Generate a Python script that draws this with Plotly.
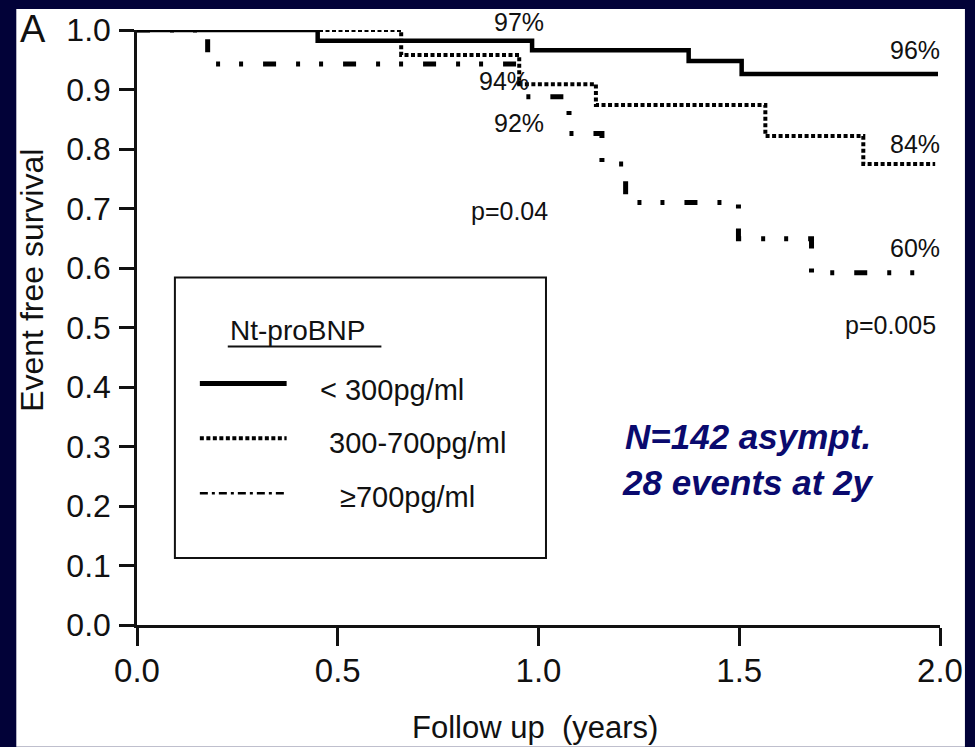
import plotly.graph_objects as go

# ---------------- data ----------------
groups = ["< 300pg/ml", "300-700pg/ml", "≥700pg/ml"]

t_low = [0.45, 0.984, 1.374, 1.506]
s_low = [0.982, 0.966, 0.948, 0.926]
end_low = 1.995

t_mid = [0.658, 0.952, 1.143, 1.565, 1.809]
s_mid = [0.958, 0.909, 0.874, 0.822, 0.775]
end_mid = 1.988

t_high = [0.176, 0.952, 1.076, 1.158, 1.217, 1.498, 1.68]
s_high = [0.943, 0.888, 0.826, 0.775, 0.71, 0.649, 0.592]
end_high = 1.963

pct_labels = ["97%", "96%", "94%", "92%", "84%", "60%"]
p_labels = ["p=0.04", "p=0.005"]
y_ticks = [i / 10 for i in range(11)]
x_ticks = [0.0, 0.5, 1.0, 1.5, 2.0]

# ---------------- layout helpers ----------------
W, H = 975, 747
L, R, T, B = 137, 942, 29, 625  # plot area pixel box


def px(x):
    return (x - L) / (R - L)


def py(y):
    return (B - y) / (B - T)


NAVY = "#020238"
INK = "#111111"
FONT = "Liberation Sans, Arial, sans-serif"


def km(times, surv, end):
    xs = [0.0] + list(times) + [end]
    ys = [1.0] + list(surv) + [surv[-1]]
    return xs, ys


fig = go.Figure()

styles = [
    dict(width=4.5, dash="solid"),
    dict(width=4, dash="4px,2.5px"),
    dict(width=5, dash="13px,20px,4px,19px,4px,20px"),
]
series = [(t_low, s_low, end_low), (t_mid, s_mid, end_mid), (t_high, s_high, end_high)]
order = [2, 1, 0]
for i in order:
    xs, ys = km(*series[i])
    fig.add_trace(go.Scatter(
        x=xs, y=ys, mode="lines", name=groups[i],
        line=dict(color="black", width=styles[i]["width"], dash=styles[i]["dash"], shape="hv"),
        cliponaxis=False, showlegend=False, hoverinfo="skip",
    ))

shapes = []
# white panel on the navy page
shapes.append(dict(type="rect", xref="paper", yref="paper",
                   x0=px(16), x1=px(967), y0=py(747), y1=py(8),
                   fillcolor="white", line=dict(width=0), layer="below"))
# legend box
shapes.append(dict(type="rect", xref="paper", yref="paper",
                   x0=px(175), x1=px(547), y0=py(558), y1=py(277),
                   fillcolor="rgba(0,0,0,0)", line=dict(color=INK, width=2)))
# legend title underline
shapes.append(dict(type="line", xref="paper", yref="paper",
                   x0=px(228), x1=px(382), y0=py(346), y1=py(346),
                   line=dict(color=INK, width=2)))
# legend sample lines
leg_y = [383, 438, 493]
leg_styles = [dict(width=5, dash="solid"), dict(width=4, dash="4px,2.5px"),
              dict(width=2.5, dash="8px,4px,3px,4px")]
for yy, st in zip(leg_y, leg_styles):
    shapes.append(dict(type="line", xref="paper", yref="paper",
                       x0=px(200), x1=px(287), y0=py(yy), y1=py(yy),
                       line=dict(color="black", width=st["width"], dash=st["dash"])))

ann = []


def text(s, x, y, size=25, xanchor="center", color=INK, angle=0, family=FONT):
    ann.append(dict(text=s, xref="paper", yref="paper", x=px(x), y=py(y),
                    xanchor=xanchor, yanchor="middle", showarrow=False,
                    textangle=angle, font=dict(size=size, color=color, family=family)))


# percentage / p-value labels
text(pct_labels[0], 520, 21)
text(pct_labels[1], 917, 49)
text(pct_labels[2], 505, 80)
text(pct_labels[3], 520, 122)
text(pct_labels[4], 917, 143)
text(pct_labels[5], 917, 247)
text(p_labels[0], 510, 210)
text(p_labels[1], 892, 324)

# legend texts
text("Nt-proBNP", 228, 330, size=28, xanchor="left")
leg_lbl_x = [318, 327, 338]
leg_lbl_y = [390, 443, 497]
for g, xx, yy in zip(groups, leg_lbl_x, leg_lbl_y):
    text(g, xx, yy, size=29, xanchor="left")

# cohort note
text("<b><i>N=142 asympt.</i></b>", 750, 436, size=35, color="#0a0a6e")
text("<b><i>28 events at 2y</i></b>", 750, 482, size=35, color="#0a0a6e")

# panel letter and axis titles
text("A", 33, 28, size=38)
text("Event free survival", 31, 280, size=32, angle=-90)
text("Follow up  (years)", 536, 728, size=31)

fig.update_layout(
    width=W, height=H,
    margin=dict(l=L, r=W - R, t=T, b=H - B, pad=0),
    paper_bgcolor=NAVY, plot_bgcolor="white",
    shapes=shapes, annotations=ann,
    font=dict(family=FONT, color=INK),
    showlegend=False,
)
fig.update_xaxes(
    range=[0, 2], tickvals=x_ticks, tickformat=".1f",
    showline=True, linecolor=INK, linewidth=3, showgrid=False, zeroline=False,
    ticks="outside", ticklen=18, tickwidth=2.5, tickcolor=INK,
    tickfont=dict(size=33, color=INK, family=FONT), ticklabelstandoff=-4,
)
fig.update_yaxes(
    range=[0, 1], tickvals=y_ticks, tickformat=".1f",
    showline=True, linecolor=INK, linewidth=2.5, showgrid=False, zeroline=False,
    ticks="outside", ticklen=15, tickwidth=2.5, tickcolor=INK,
    tickfont=dict(size=32, color=INK, family=FONT), ticklabelstandoff=2,
)

fig.write_html("out.html")
